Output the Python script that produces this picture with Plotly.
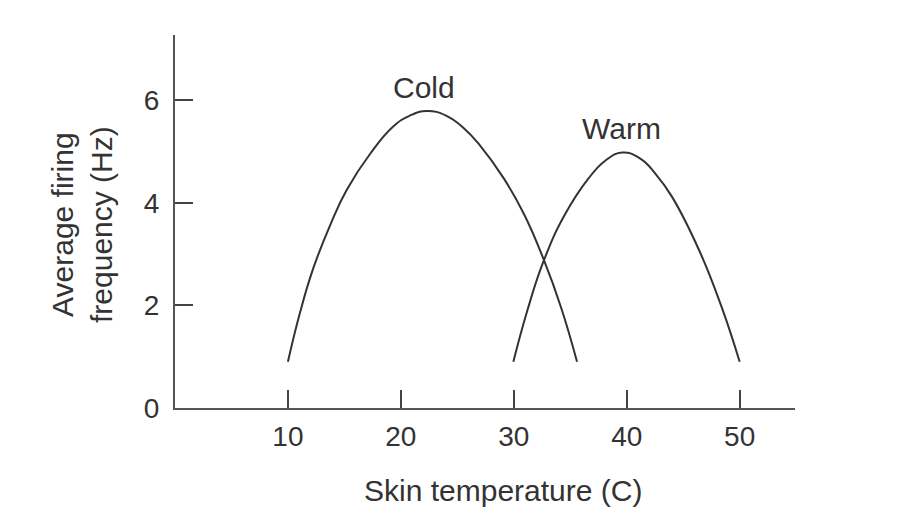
import plotly.graph_objects as go

# Data
cold_x = [10, 11.06, 12.24, 13.77, 15.2, 17.3, 19.3, 20.8, 22.3, 24.0, 25.6, 27.0, 29.1, 30.9, 32.67, 34.2, 35.6]
cold_y = [0.90, 1.85, 2.72, 3.58, 4.25, 4.96, 5.48, 5.70, 5.79, 5.70, 5.45, 5.12, 4.48, 3.78, 2.88, 1.95, 0.90]
warm_x = [29.96, 31.2, 32.67, 34.5, 36.6, 38.1, 39.6, 41.2, 42.6, 44.0, 46.4, 48.4, 50.0]
warm_y = [0.90, 1.90, 2.88, 3.76, 4.47, 4.82, 4.98, 4.86, 4.55, 4.12, 3.08, 1.97, 0.90]
x_ticks = [10, 20, 30, 40, 50]
y_ticks = [0, 2, 4, 6]
labels = ["Cold", "Warm"]
label_pos = [(22.05, 6.24), (39.5, 5.44)]

FONT = "Liberation Sans, Arial, sans-serif"
TXT = "#333333"
LINE = "#333333"

fig = go.Figure()
fig.add_trace(go.Scatter(x=cold_x, y=cold_y, mode="lines",
                         line=dict(color=LINE, width=2, shape="spline", smoothing=1.3),
                         hoverinfo="skip", showlegend=False))
fig.add_trace(go.Scatter(x=warm_x, y=warm_y, mode="lines",
                         line=dict(color=LINE, width=2, shape="spline", smoothing=1.3),
                         hoverinfo="skip", showlegend=False))

for name, (lx, ly) in zip(labels, label_pos):
    fig.add_annotation(x=lx, y=ly, text=name, showarrow=False,
                       font=dict(family=FONT, size=30, color=TXT),
                       xanchor="center", yanchor="middle")

fig.add_annotation(xref="paper", yref="paper", x=(503.5 - 175) / 620, y=-(490 - 408) / 373,
                   text="Skin temperature (C)", showarrow=False,
                   font=dict(family=FONT, size=30, color=TXT),
                   xanchor="center", yanchor="middle")
fig.add_annotation(xref="paper", yref="paper", x=-(175 - 82) / 620, y=(408 - 225) / 373,
                   text="Average firing<br>frequency (Hz)", showarrow=False, textangle=-90,
                   font=dict(family=FONT, size=30, color=TXT),
                   xanchor="center", yanchor="middle")

fig.update_xaxes(range=[0, 54.9], tickvals=x_ticks, ticktext=[str(v) for v in x_ticks],
                 ticks="inside", ticklen=18, tickwidth=2, tickcolor="#444444",
                 showline=True, linecolor="#555555", linewidth=2,
                 showgrid=False, zeroline=False, ticklabelstandoff=2,
                 tickfont=dict(family=FONT, size=28, color=TXT))
fig.update_yaxes(range=[0, 7.27], tickvals=y_ticks, ticktext=[str(v) for v in y_ticks],
                 ticks="inside", ticklen=18, tickwidth=2, tickcolor="#444444",
                 showline=True, linecolor="#555555", linewidth=2,
                 showgrid=False, zeroline=False, ticklabelstandoff=8,
                 tickfont=dict(family=FONT, size=28, color=TXT))

fig.update_layout(width=900, height=516,
                  margin=dict(l=167, r=113, t=27, b=116),
                  plot_bgcolor="white", paper_bgcolor="white",
                  showlegend=False)

fig.write_html("out.html")
